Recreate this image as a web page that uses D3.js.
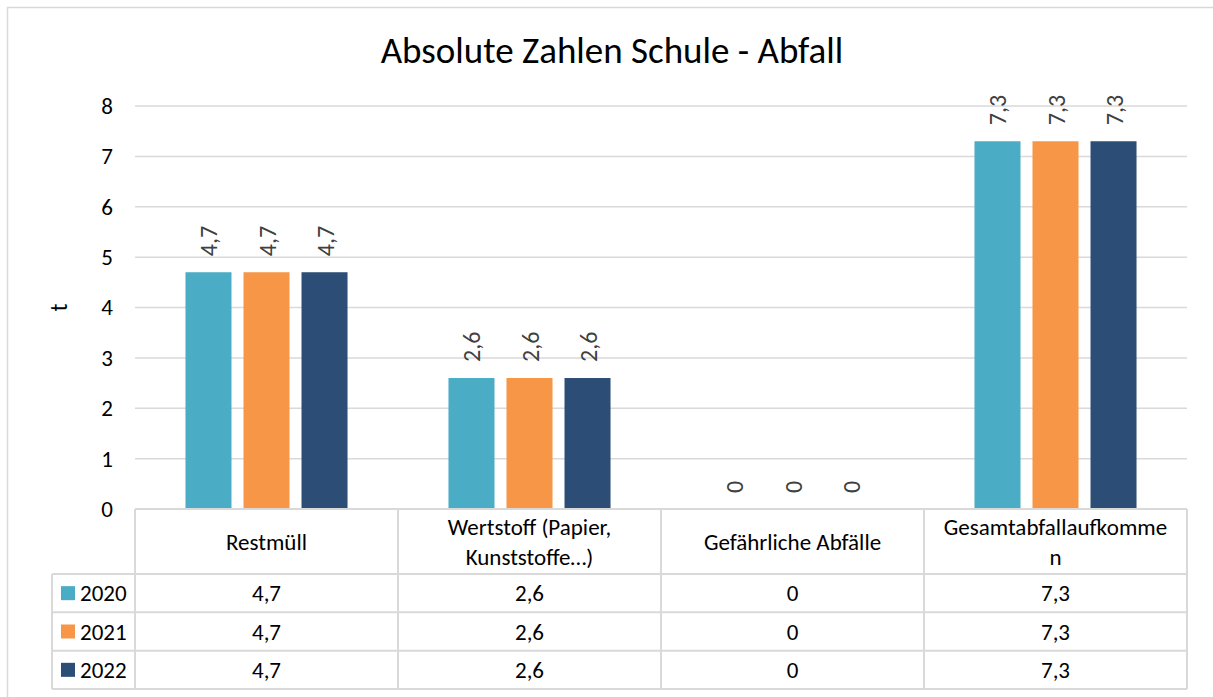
<!DOCTYPE html>
<html>
<head>
<meta charset="utf-8">
<script src="https://cdn.jsdelivr.net/npm/d3@7"></script>
<style>
  body { margin: 0; background: #fff; }
  svg { font-family: Carlito, Calibri, Lato, "Liberation Sans", sans-serif; }
</style>
</head>
<body>
<svg id="chart" width="1213" height="697"></svg>
<script>
// data
const categories = ['Restmüll', 'Wertstoff (Papier,\nKunststoffe…)', 'Gefährliche Abfälle', 'Gesamtabfallaufkomme\nn'];
const years = ['2020', '2021', '2022'];
const values2020 = [4.7, 2.6, 0, 7.3];
const values2021 = [4.7, 2.6, 0, 7.3];
const values2022 = [4.7, 2.6, 0, 7.3];
const colors = ['#4bacc6', '#f79646', '#2c4d75'];
const yTicks = [0, 1, 2, 3, 4, 5, 6, 7, 8];

const series = [values2020, values2021, values2022];
const fmt = v => String(v).replace('.', ',');

const svg = d3.select('#chart');
const grid = '#d9d9d9';

// outer frame (right and bottom edges fall outside the picture)
svg.append('rect')
  .attr('x', 7.5).attr('y', 7.5)
  .attr('width', 1220).attr('height', 700)
  .attr('fill', 'none').attr('stroke', grid).attr('stroke-width', 1.5);

const margin = { left: 135, right: 26, top: 106 };
const plotBottom = 509;

const x = d3.scaleBand()
  .domain(categories)
  .range([margin.left, 1213 - margin.right]);

const xInner = d3.scaleBand()
  .domain(years)
  .range([0, x.bandwidth()])
  .paddingInner(0.207)
  .paddingOuter(0.87);

const y = d3.scaleLinear()
  .domain([0, 8])
  .range([plotBottom, margin.top]);

// title
svg.append('text')
  .attr('x', 612).attr('y', 63)
  .attr('text-anchor', 'middle')
  .attr('font-size', 37)
  .attr('fill', '#000')
  .text('Absolute Zahlen Schule - Abfall');

// gridlines
svg.append('g')
  .selectAll('line')
  .data(yTicks.filter(d => d > 0))
  .enter()
  .append('line')
    .attr('x1', margin.left).attr('x2', 1213 - margin.right)
    .attr('y1', d => y(d)).attr('y2', d => y(d))
    .attr('stroke', grid).attr('stroke-width', 1.5);

// y axis
const yAxisG = svg.append('g')
  .attr('transform', `translate(${margin.left - 22}, 0)`)
  .call(d3.axisLeft(y).tickValues(yTicks).tickSize(0).tickPadding(0));
yAxisG.select('.domain').remove();
yAxisG.selectAll('.tick text')
  .attr('font-size', 23)
  .attr('font-family', 'Carlito, Calibri, Lato, sans-serif')
  .attr('fill', '#000');

svg.append('text')
  .attr('transform', `translate(67, ${y(4)}) rotate(-90)`)
  .attr('text-anchor', 'middle')
  .attr('font-size', 24)
  .attr('fill', '#000')
  .text('t');

// bars
const groups = svg.append('g')
  .selectAll('g')
  .data(categories)
  .enter()
  .append('g')
    .attr('transform', d => `translate(${x(d)}, 0)`);

groups.selectAll('rect')
  .data((d, i) => years.map((yr, j) => ({ yr, v: series[j][i], c: colors[j] })))
  .enter()
  .append('rect')
    .attr('x', d => xInner(d.yr))
    .attr('y', d => y(d.v))
    .attr('width', xInner.bandwidth())
    .attr('height', d => plotBottom - y(d.v))
    .attr('fill', d => d.c);

groups.selectAll('text')
  .data((d, i) => years.map((yr, j) => ({ yr, v: series[j][i] })))
  .enter()
  .append('text')
    .attr('transform', d => `translate(${xInner(d.yr) + xInner.bandwidth() / 2 + 9}, ${y(d.v) - 16}) rotate(-90)`)
    .attr('font-size', 24)
    .attr('fill', '#404040')
    .text(d => fmt(d.v));

// data table
const tableLeft = 52;
const headerBottom = 574;
const rowY = d3.scaleBand()
  .domain(years)
  .range([headerBottom, 689]);

const tbl = svg.append('g')
  .attr('stroke', grid).attr('stroke-width', 2);

// horizontal lines
tbl.append('line')
  .attr('x1', margin.left).attr('x2', 1213 - margin.right)
  .attr('y1', plotBottom).attr('y2', plotBottom);
years.forEach(yr => {
  tbl.append('line')
    .attr('x1', tableLeft).attr('x2', 1213 - margin.right)
    .attr('y1', rowY(yr)).attr('y2', rowY(yr));
});
tbl.append('line')
  .attr('x1', tableLeft).attr('x2', 1213 - margin.right)
  .attr('y1', rowY.range()[1]).attr('y2', rowY.range()[1]);

// vertical lines
categories.forEach(c => {
  tbl.append('line')
    .attr('x1', x(c)).attr('x2', x(c))
    .attr('y1', plotBottom).attr('y2', rowY.range()[1]);
});
tbl.append('line')
  .attr('x1', 1213 - margin.right).attr('x2', 1213 - margin.right)
  .attr('y1', plotBottom).attr('y2', rowY.range()[1]);
tbl.append('line')
  .attr('x1', tableLeft).attr('x2', tableLeft)
  .attr('y1', headerBottom).attr('y2', rowY.range()[1]);

// header labels
const headerMid = (plotBottom + headerBottom) / 2;
categories.forEach(c => {
  const lines = c.split('\n');
  const t = svg.append('text')
    .attr('text-anchor', 'middle')
    .attr('font-size', 23)
    .attr('fill', '#000');
  lines.forEach((ln, k) => {
    t.append('tspan')
      .attr('x', x(c) + x.bandwidth() / 2)
      .attr('y', headerMid + 8 + (k - (lines.length - 1) / 2) * 30)
      .text(ln);
  });
});

// legend column
years.forEach((yr, j) => {
  const cy = rowY(yr) + rowY.bandwidth() / 2;
  svg.append('rect')
    .attr('x', 61).attr('y', cy - 7)
    .attr('width', 14).attr('height', 14)
    .attr('fill', colors[j]);
  svg.append('text')
    .attr('x', 80).attr('y', cy + 8)
    .attr('font-size', 23)
    .attr('fill', '#000')
    .text(yr);
  categories.forEach((c, i) => {
    svg.append('text')
      .attr('x', x(c) + x.bandwidth() / 2)
      .attr('y', cy + 8)
      .attr('text-anchor', 'middle')
      .attr('font-size', 23)
      .attr('fill', '#000')
      .text(fmt(series[j][i]));
  });
});
</script>
</body>
</html>
